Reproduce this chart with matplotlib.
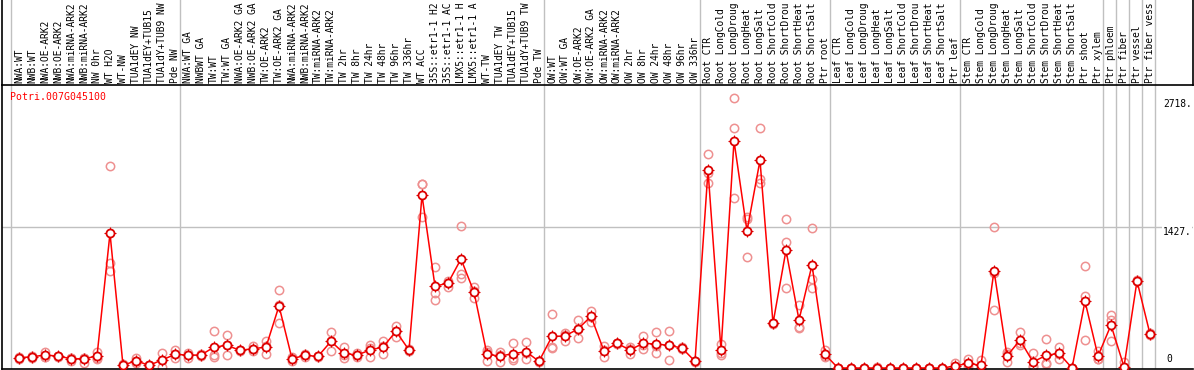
import numpy as np
import matplotlib
matplotlib.use("Agg")
import matplotlib.pyplot as plt

GENE = "Potri.007G045100"

# sample names as printed (the chart cuts them to 14 characters)
samples = [
    "NWA:WT", "NWB:WT", "NWA:OE-ARK2", "NWB:OE-ARK2", "NWA:miRNA-ARK2", "NWB:miRNA-ARK2",
    "NW 0hr", "WT H2O", "WT-NW", "TUA1dEY NW", "TUA1dEY+TUB15", "TUA1dY+TUB9 NW", "Pde NW",
    "NWA:WT GA", "NWBWT GA", "TW:WT", "TW:WT GA", "NWA:OE-ARK2 GA", "NWB:OE-ARK2 GA",
    "TW:OE-ARK2", "TW:OE-ARK2 GA", "NWA:miRNA-ARK2", "NWB:miRNA-ARK2", "TW:miRNA-ARK2",
    "TW:miRNA-ARK2", "TW 2hr", "TW 8hr", "TW 24hr", "TW 48hr", "TW 96hr", "TW 336hr",
    "WT ACC", "35S::etr1-1 H2", "35S::etr1-1 AC", "LMX5::etr1-1 H", "LMX5::etr1-1 A",
    "WT-TW", "TUA1dEY TW", "TUA1dEY+TUB15", "TUA1dY+TUB9 TW", "Pde TW",
    "OW:WT", "OW:WT GA", "OW:OE-ARK2", "OW:OE-ARK2 GA", "OW:miRNA-ARK2", "OW:miRNA-ARK2",
    "OW 2hr", "OW 8hr", "OW 24hr", "OW 48hr", "OW 96hr", "OW 336hr",
    "Root CTR", "Root LongCold", "Root LongDroug", "Root LongHeat", "Root LongSalt",
    "Root ShortCold", "Root ShortDrou", "Root ShortHeat", "Root ShortSalt", "Ptr root",
    "Leaf CTR", "Leaf LongCold", "Leaf LongDroug", "Leaf LongHeat", "Leaf LongSalt",
    "Leaf ShortCold", "Leaf ShortDrou", "Leaf ShortHeat", "Leaf ShortSalt", "Ptr leaf",
    "Stem CTR", "Stem LongCold", "Stem LongDroug", "Stem LongHeat", "Stem LongSalt",
    "Stem ShortCold", "Stem ShortDrou", "Stem ShortHeat", "Stem ShortSalt",
    "Ptr shoot", "Ptr xylem", "Ptr phloem", "Ptr fiber", "Ptr vessel", "Ptr fiber vess",
]

mean_expr = [
    104, 114, 131, 121, 94, 94, 121, 1363, 27, 74, 27, 81, 138,
    131, 131, 212, 229, 179, 195, 212, 628, 94, 128, 118, 270, 148, 131, 182, 212, 371, 182,
    1748, 827, 860, 1103, 769, 138, 121, 145, 165, 68,
    320, 324, 395, 523, 172, 250, 182, 250, 243, 229, 202, 68,
    2001, 179, 2298, 1387, 2102, 452, 1191, 486, 1043, 138,
    0, 0, 0, 0, 0, 0, 0, 0, 0, 20,
    47, 27, 985, 121, 283, 61, 128, 148, 0,
    675, 121, 435, 13, 881, 344,
]

replicates = [
    [94, 114, 104], [104, 125, 114], [165, 114, 114], [125, 114, 125], [104, 74, 104],
    [104, 54, 104], [165, 104, 88], [2041, 1060, 982], [27, 40, 20], [98, 54, 74],
    [27, 20, 34], [149, 13, 81], [182, 98, 138], [149, 98, 131], [131, 125, 138],
    [374, 131, 114], [331, 229, 128], [179, 182, 172], [223, 172, 195], [273, 138, 225],
    [789, 455, 640], [98, 74, 110], [138, 114, 128], [118, 114, 122], [361, 270, 172],
    [216, 98, 131], [149, 114, 131], [233, 114, 199], [273, 138, 225], [425, 317, 371],
    [189, 182, 175], [1859, 1525, 1860], [1022, 756, 688], [884, 823, 860], [1434, 951, 908],
    [823, 705, 780], [182, 74, 158], [165, 64, 134], [250, 81, 104], [266, 149, 88],
    [68, 60, 76], [547, 216, 199], [357, 276, 339], [486, 304, 395], [580, 469, 520],
    [223, 114, 179], [250, 243, 257], [216, 138, 192], [324, 189, 237], [361, 149, 219],
    [374, 81, 232], [202, 195, 209], [68, 62, 74], [2163, 1869, 1971], [243, 149, 131],
    [2730, 2426, 1718], [1525, 1124, 1512], [2426, 1910, 1869], [452, 445, 459],
    [1508, 1275, 806], [638, 418, 405], [1417, 898, 806], [182, 114, 118],
    [0, 0, 0], [0, 0, 0], [0, 0, 0], [13, 0, 0], [0, 0, 0], [0, 0, 0], [0, 0, 0],
    [0, 0, 0], [0, 0, 0], [47, 0, 13], [88, 13, 40], [81, 0, 0], [1424, 958, 587],
    [159, 64, 140], [361, 233, 255], [148, 13, 22], [293, 40, 51], [216, 88, 140],
    [0, 0, 0], [1032, 732, 283], [175, 94, 94], [533, 486, 276], [64, 0, 0],
    [881, 876, 886], [357, 337, 340],
]

# separators are drawn just after these sample indices
group_ends = [-1, 12, 40, 52, 62, 72, 83, 84, 85, 86, 87]
y_ticks = [0, 1427, 2718]

W, H = 1194, 370
MONO = "DejaVu Sans Mono"
FS = 6.9

fig = plt.figure(figsize=(W / 100, H / 100), dpi=100)
ax = fig.add_axes([2 / W, 1 / H, 1191 / W, 284 / H])
ax_lab = fig.add_axes([2 / W, 285 / H, 1191 / W, 85 / H], sharex=ax)

x = np.arange(len(samples))
ax.set_xlim(-17 / 13, 1174 / 13)
ax.set_ylim(-10, 2864)
ax_lab.set_ylim(0, 1)

grid_c = "#c0c0c0"
for g in group_ends:
    for a in (ax, ax_lab):
        a.axvline(g + 0.4, color=grid_c, lw=1.0, zorder=0)
ax.axhline(y_ticks[1], color=grid_c, lw=1.0, zorder=0)

# replicate circles
for i, reps in enumerate(replicates):
    ax.plot([i] * len(reps), reps, ls="none", marker="o", ms=6, mfc="none",
            mec="#ee9090", mew=1.1, clip_on=False, zorder=2)

ax.plot(x, mean_expr, color="#ff0000", lw=1.1, zorder=3)
ax.plot(x, mean_expr, ls="none", marker="+", ms=8, mec="#dd0000", mew=0.8,
        clip_on=False, zorder=3)
ax.plot(x, mean_expr, ls="none", marker="o", ms=5.8, mfc="white", mec="#dd0000",
        mew=1.3, clip_on=False, zorder=4)

for s in ("top", "right"):
    ax.spines[s].set_visible(False)
for s in ("left", "bottom"):
    ax.spines[s].set_linewidth(1.2)
    ax.spines[s].set_color("black")
for s in ("left", "right", "bottom"):
    ax_lab.spines[s].set_linewidth(1.2)
ax_lab.spines["top"].set_visible(False)
for a in (ax, ax_lab):
    a.set_xticks([])
    a.set_yticks([])
    a.patch.set_alpha(0)

for i, name in enumerate(samples):
    ax_lab.text(i, 0.025, name, rotation=90, ha="center", va="bottom",
                fontsize=FS, family=MONO, color="black", clip_on=False)

tx = 88.0
ax.text(tx, y_ticks[2], f"{y_ticks[2]}.", ha="left", va="top", fontsize=FS,
        family=MONO, bbox=dict(facecolor="white", edgecolor="none", pad=0.5))
ax.text(tx, y_ticks[1], f"{y_ticks[1]}.", ha="left", va="top", fontsize=FS,
        family=MONO, bbox=dict(facecolor="white", edgecolor="none", pad=0.5))
ax.text(tx + 0.25, 40, f"{y_ticks[0]}", ha="left", va="bottom", fontsize=FS,
        family=MONO)

fig.text(10 / W, (H - 97) / H, GENE, ha="left", va="center", fontsize=FS + 0.2,
         family=MONO, color="#ff0000")

fig.savefig("out.png", dpi=100)
